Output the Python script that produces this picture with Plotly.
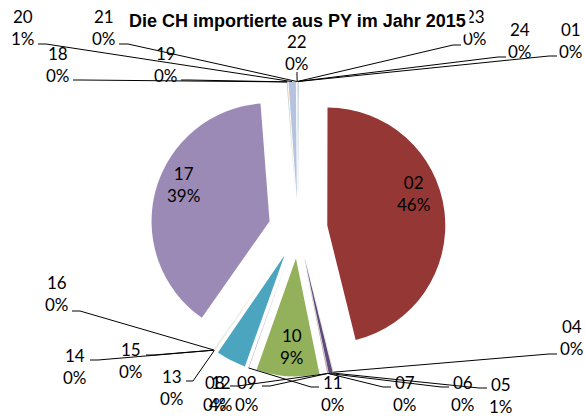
import math
import plotly.graph_objects as go

# ---------------- data ----------------
categories = ["01", "02", "04", "05", "06", "07", "08", "09", "10", "11", "12", "13",
              "14", "15", "16", "17", "18", "19", "20", "21", "22", "23", "24"]
shares = [0.03, 46.1, 0.03, 0.55, 0.03, 0.02, 0.02, 0.03, 8.6, 0.05, 4.1, 0.08,
          0.02, 0.02, 0.05, 39.05, 0.05, 0.04, 1.0, 0.03, 0.02, 0.02, 0.06]
title_text = "Die CH importierte aus PY im Jahr 2015"

# ---------------- styles / layout ----------------
W, H = 585, 416
colors = ["#376092", "#953735", "#77933C", "#604A7B", "#31859C", "#E46C0A", "#4F81BD",
          "#C0504D", "#93B05A", "#8064A2", "#4BA5BF", "#D8E4BC", "#DCE6F2", "#EBF1DE",
          "#E4DFEC", "#9B8AB6", "#6FBDD1", "#F9AB6B", "#B5C3DF", "#E6B9B8", "#D7E4BD",
          "#CCC1DA", "#B7DEE8"]
PULL = 0.25
dom_x = [150.5 / W, 445.5 / W]
dom_y = [1 - 376.5 / H, 1 - 81.5 / H]

# label placement (pixel centre), leader start and elbow (pixels)
label_pos = {
    "02": ((413, 193), None, None),
    "17": ((183, 184), None, None),
    "10": ((292, 346), None, None),
    "20": ((23, 28), (38, 44), (46, 44)),
    "21": ((104, 28), (119, 44), (128, 44)),
    "18": ((58, 64), (73, 80), (81, 80)),
    "19": ((166, 64), (181, 80), (189, 80)),
    "22": ((297, 52), (297, 72), (297, 75)),
    "23": ((475, 28), (461, 45), (453, 45)),
    "24": ((520, 40), (506, 57), (498, 57)),
    "01": ((571, 40), (557, 56), (549, 56)),
    "16": ((57, 293), (72, 311), (80, 311)),
    "14": ((75, 366), (90, 360), (98, 360)),
    "15": ((131, 360), (146, 355), (154, 355)),
    "13": ((172, 387), (186, 381), (193, 381)),
    "08": ((215, 393), (230, 386), (238, 386)),
    "12": ((221, 393), None, None),
    "09": ((247, 393), (262, 386), (270, 386)),
    "11": ((333, 393), (319, 387), (311, 387)),
    "07": ((405, 393), (391, 387), (383, 387)),
    "06": ((463, 393), (449, 387), (441, 387)),
    "05": ((501, 395), (487, 388), (479, 388)),
    "04": ((572, 337), (557, 354), (549, 354)),
}

label_font = dict(family="Lato, Noto Sans, sans-serif", size=17, color="#000000")


def px(x, y):
    return x / W, 1 - y / H


# pie geometry in pixels (derived from domain + pull the way plotly lays it out)
box_w = (dom_x[1] - dom_x[0]) * W
box_h = (dom_y[1] - dom_y[0]) * H
cx = (dom_x[0] + dom_x[1]) / 2 * W
cy = H - (dom_y[0] + dom_y[1]) / 2 * H
radius = min(box_w, box_h) / 2 / (1 + PULL)

total = sum(shares)
anchors = {}
cum = 0.0
for cat, v in zip(categories, shares):
    mid = (cum + v / 2) / total
    cum += v
    th = 2 * math.pi * mid
    d = radius * (1 + PULL)
    anchors[cat] = (cx + d * math.sin(th), cy - d * math.cos(th))

fig = go.Figure()
fig.add_trace(go.Pie(
    labels=categories,
    values=shares,
    sort=False,
    direction="clockwise",
    rotation=0,
    pull=[PULL] * len(categories),
    marker=dict(colors=colors, line=dict(width=0)),
    textinfo="none",
    hoverinfo="label+percent",
    showlegend=False,
    domain=dict(x=dom_x, y=dom_y),
))

shapes = []
annotations = []
for cat, v in zip(categories, shares):
    (lx, ly), start, elbow = label_pos[cat]
    pct = round(v / total * 100)
    x, y = px(lx, ly)
    annotations.append(dict(
        x=x, y=y, xref="paper", yref="paper", xanchor="center", yanchor="middle",
        text=f"{cat}<br>{pct}%", showarrow=False, font=label_font,
    ))
    if start is not None:
        ax_, ay_ = anchors[cat]
        p1 = px(*start)
        p2 = px(*elbow)
        p3 = px(ax_, ay_)
        shapes.append(dict(
            type="path", xref="paper", yref="paper",
            path=f"M {p1[0]} {p1[1]} L {p2[0]} {p2[1]} L {p3[0]} {p3[1]}",
            line=dict(color="#000000", width=1),
        ))

tx, ty = px(297.5, 21)
annotations.append(dict(
    x=tx, y=ty, xref="paper", yref="paper", xanchor="center", yanchor="middle",
    text=f"<b>{title_text}</b>", showarrow=False, bgcolor="#FFFFFF", borderpad=3,
    font=dict(family="Liberation Sans, Arial, sans-serif", size=18, color="#000000"),
))

fig.update_layout(
    width=W, height=H,
    margin=dict(l=0, r=0, t=0, b=0),
    paper_bgcolor="#FFFFFF",
    plot_bgcolor="#FFFFFF",
    shapes=shapes,
    annotations=annotations,
)

fig.write_html("out.html", config={"displayModeBar": False},
               post_script="document.body.style.margin='0';")
